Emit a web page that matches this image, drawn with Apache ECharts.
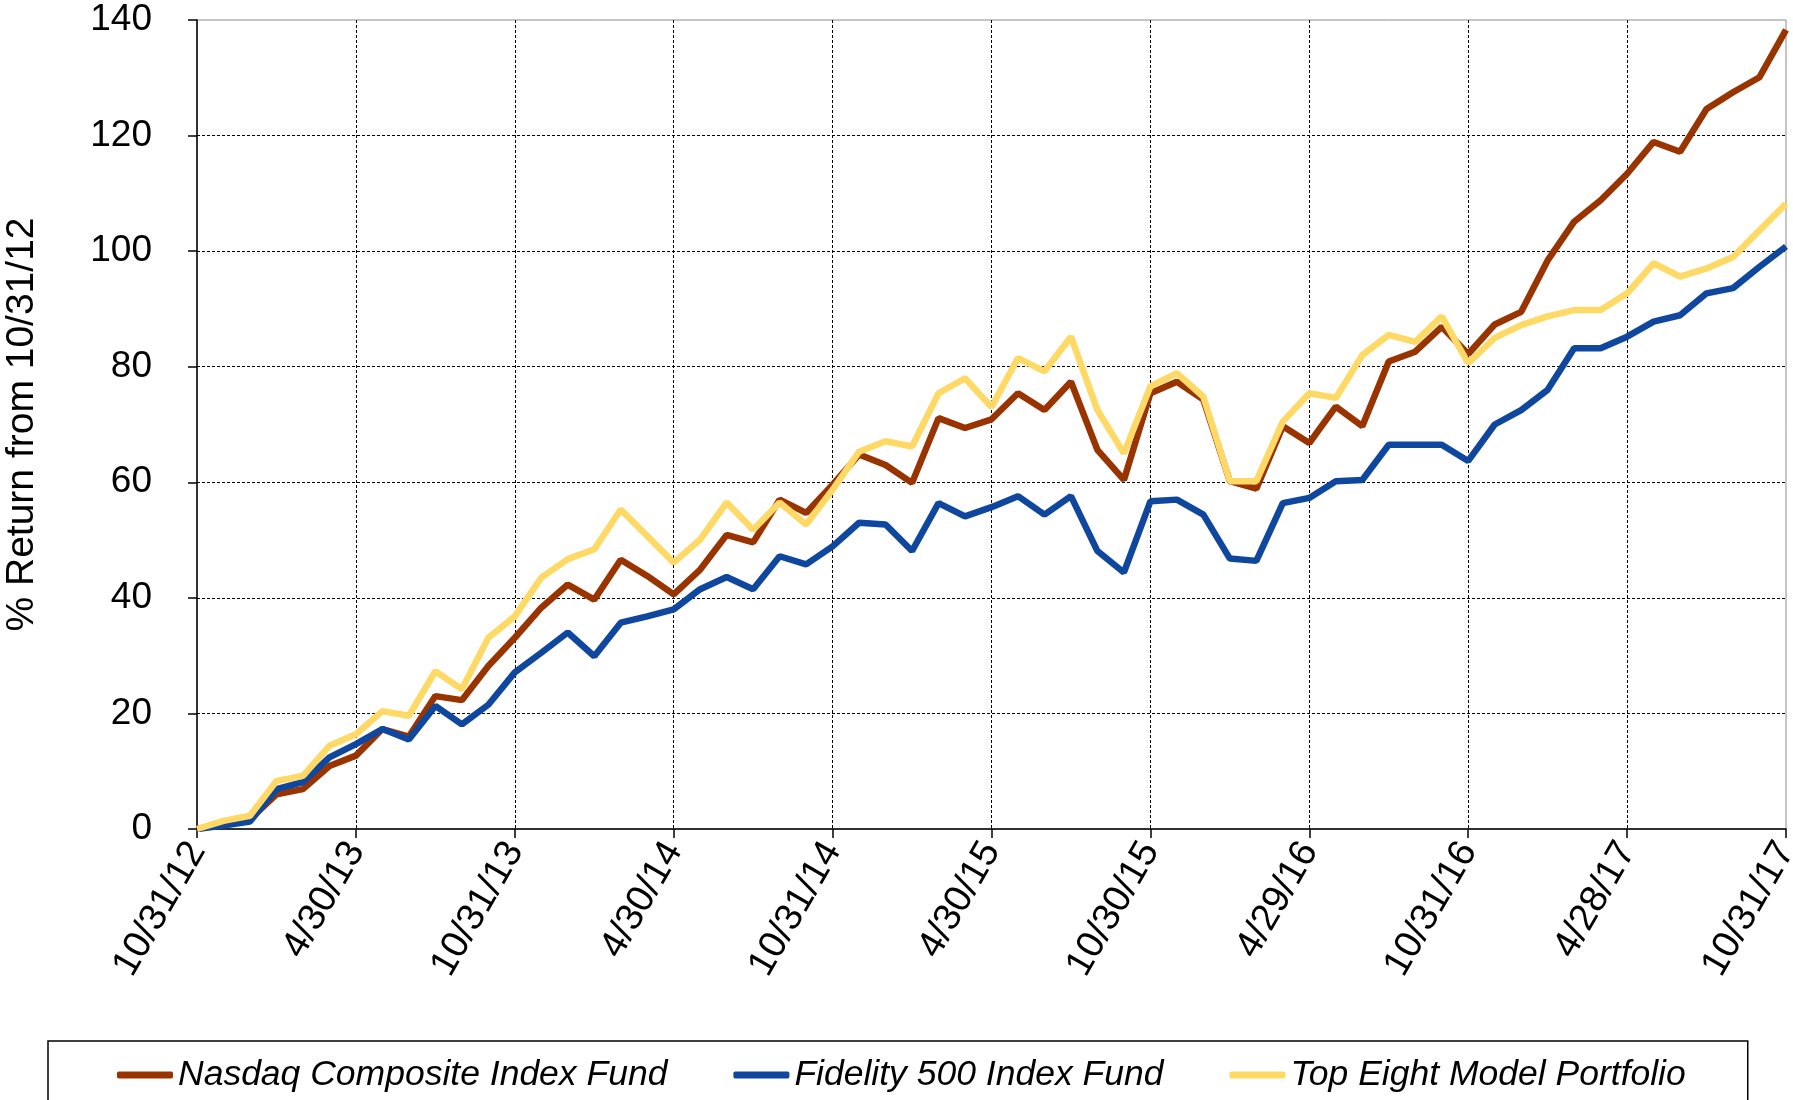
<!DOCTYPE html>
<html>
<head>
<meta charset="utf-8">
<script src="https://cdn.jsdelivr.net/npm/echarts@6.0.0/dist/echarts.min.js"></script>
<style>
  html, body { margin: 0; padding: 0; background: #fff; }
  #chart { width: 1793px; height: 1100px; }
</style>
</head>
<body>
<div id="chart"></div>
<script>
// month-end dates, every 6th one is labelled
const dates = [
  '10/31/12', '11/30/12', '12/31/12', '1/31/13', '2/28/13', '3/28/13',
  '4/30/13', '5/31/13', '6/28/13', '7/31/13', '8/30/13', '9/30/13',
  '10/31/13', '11/29/13', '12/31/13', '1/31/14', '2/28/14', '3/31/14',
  '4/30/14', '5/30/14', '6/30/14', '7/31/14', '8/29/14', '9/30/14',
  '10/31/14', '11/28/14', '12/31/14', '1/30/15', '2/27/15', '3/31/15',
  '4/30/15', '5/29/15', '6/30/15', '7/31/15', '8/31/15', '9/30/15',
  '10/30/15', '11/30/15', '12/31/15', '1/29/16', '2/29/16', '3/31/16',
  '4/29/16', '5/31/16', '6/30/16', '7/29/16', '8/31/16', '9/30/16',
  '10/31/16', '11/30/16', '12/30/16', '1/31/17', '2/28/17', '3/31/17',
  '4/28/17', '5/31/17', '6/30/17', '7/31/17', '8/31/17', '9/29/17',
  '10/31/17'
]

const nasdaq = [
  0, 0.9, 1.7, 6.0, 6.9, 10.9, 12.7, 17.3, 16.0, 23.0, 22.3, 28.2,
  33.1, 38.3, 42.3, 39.7, 46.6, 43.8, 40.6, 44.9, 50.9, 49.6, 57.0, 54.7,
  59.6, 64.8, 63.0, 59.9, 71.1, 69.4, 70.9, 75.4, 72.5, 77.4, 65.6, 60.4,
  75.4, 77.4, 74.3, 60.2, 58.9, 69.7, 66.8, 73.1, 69.7, 80.9, 82.6, 86.9,
  82.2, 87.3, 89.5, 98.4, 105.1, 108.8, 113.4, 118.9, 117.2, 124.6, 127.5, 130.1,
  138.3
]

const fidelity = [
  0, 0.6, 1.3, 6.9, 8.1, 12.4, 14.7, 17.3, 15.5, 21.3, 18.1, 21.5,
  27.1, 30.5, 34.0, 29.9, 35.7, 36.8, 38.0, 41.5, 43.6, 41.5, 47.2, 45.8,
  48.9, 53.0, 52.7, 48.1, 56.4, 54.1, 55.7, 57.6, 54.4, 57.6, 48.1, 44.4,
  56.7, 57.0, 54.4, 46.8, 46.4, 56.4, 57.3, 60.2, 60.4, 66.5, 66.5, 66.5,
  63.7, 70.0, 72.5, 76.0, 83.2, 83.2, 85.2, 87.8, 88.9, 92.7, 93.6, 97.3,
  100.8
]

const topEight = [
  0, 1.4, 2.3, 8.3, 9.2, 14.4, 16.4, 20.4, 19.6, 27.3, 24.2, 33.1,
  36.8, 43.5, 46.7, 48.4, 55.3, 50.7, 46.1, 50.1, 56.5, 51.8, 56.5, 52.7,
  58.7, 65.3, 67.1, 66.2, 75.4, 78.0, 73.0, 81.5, 79.2, 85.2, 72.5, 65.0,
  76.6, 78.9, 74.8, 60.2, 60.2, 70.5, 75.4, 74.6, 82.0, 85.5, 84.3, 88.7,
  80.6, 85.0, 87.2, 88.7, 89.8, 89.8, 92.7, 97.9, 95.6, 97.0, 99.0, 103.6,
  108.2
]

const font = '"Liberation Sans", Arial, sans-serif'

const chart = echarts.init(document.getElementById('chart'))

chart.setOption({
  animation: false,
  backgroundColor: '#fff',
  textStyle: {
    fontFamily: font,
    color: '#000'
  },
  grid: {
    left: 197,
    top: 20,
    width: 1589,
    height: 809,
    outerBoundsMode: 'none',
    show: true,
    borderColor: '#8c8c8c',
    borderWidth: 1
  },
  legend: {
    left: 48,
    top: 1041,
    icon: 'roundRect',
    itemWidth: 56,
    itemHeight: 7,
    itemGap: 66,
    padding: [16, 62, 40, 69],
    borderColor: '#000',
    borderWidth: 1.5,
    textStyle: {
      fontFamily: font,
      fontStyle: 'italic',
      fontSize: 35.5,
      color: '#000'
    }
  },
  xAxis: {
    type: 'category',
    data: dates,
    boundaryGap: false,
    axisLine: {
      lineStyle: { color: '#000', width: 1.5 }
    },
    axisTick: {
      interval: 5,
      length: 9,
      lineStyle: { color: '#000', width: 1.5 }
    },
    axisLabel: {
      interval: 5,
      rotate: 60,
      margin: 16,
      fontSize: 38,
      color: '#000',
      fontFamily: font
    },
    splitLine: {
      show: true,
      interval: 5,
      showMinLine: false,
      showMaxLine: false,
      lineStyle: { color: '#000', width: 1, type: [3, 2] }
    }
  },
  yAxis: {
    type: 'value',
    min: 0,
    max: 140,
    interval: 20,
    name: '% Return from 10/31/12',
    nameLocation: 'middle',
    nameGap: 155,
    nameTextStyle: {
      fontSize: 39,
      color: '#000',
      fontFamily: font
    },
    axisLine: {
      show: true,
      lineStyle: { color: '#000', width: 1.5 }
    },
    axisTick: {
      show: true,
      length: 9,
      lineStyle: { color: '#000', width: 1.5 }
    },
    axisLabel: {
      margin: 45,
      fontSize: 37,
      color: '#000',
      fontFamily: font
    },
    splitLine: {
      show: true,
      showMinLine: false,
      showMaxLine: false,
      lineStyle: { color: '#000', width: 1, type: [3, 2] }
    }
  },
  series: [
    {
      name: 'Nasdaq Composite Index Fund',
      type: 'line',
      data: nasdaq,
      symbol: 'none',
      lineStyle: { color: '#993300', width: 6.5 },
      itemStyle: { color: '#993300' }
    },
    {
      name: 'Fidelity 500 Index Fund',
      type: 'line',
      data: fidelity,
      symbol: 'none',
      lineStyle: { color: '#10479E', width: 6.5 },
      itemStyle: { color: '#10479E' }
    },
    {
      name: 'Top Eight Model Portfolio',
      type: 'line',
      data: topEight,
      symbol: 'none',
      lineStyle: { color: '#FFD966', width: 6.5 },
      itemStyle: { color: '#FFD966' }
    }
  ]
})
</script>
</body>
</html>
